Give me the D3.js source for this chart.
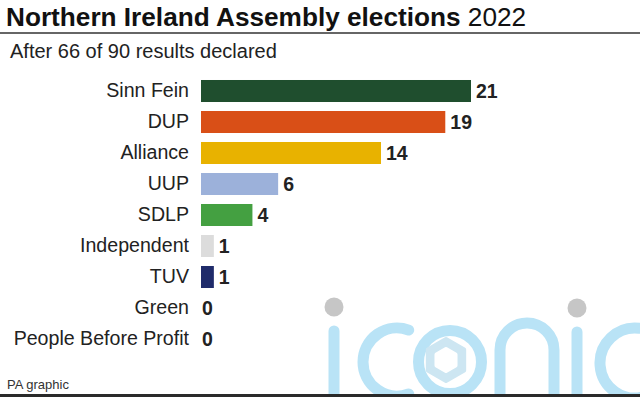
<!DOCTYPE html>
<html>
<head>
<meta charset="utf-8">
<script src="https://cdn.jsdelivr.net/npm/d3@7"></script>
<style>
  body { margin: 0; background: #fff; }
  svg { display: block; font-family: "Liberation Sans", Arial, sans-serif; }
</style>
</head>
<body>
<div id="plot"></div>
<script>
const parties = ["Sinn Fein", "DUP", "Alliance", "UUP", "SDLP", "Independent", "TUV", "Green", "People Before Profit"];
const seats = [21, 19, 14, 6, 4, 1, 1, 0, 0];
const partyColours = ["#1f4e2e", "#d94f17", "#e8b200", "#9cb1da", "#44a041", "#dcdcdc", "#1f2b6a", "#3a9a3a", "#c0392b"];

const w = 640;
const h = 397;

const rows = parties.map((p, i) => ({party: p, seats: seats[i]}));

const svg = d3.select("div#plot")
  .append("svg")
  .attr("width", w)
  .attr("height", h);

svg.append("rect")
  .attr("width", w)
  .attr("height", h)
  .attr("fill", "#fff");

// title
const title = svg.append("text")
  .attr("x", 6)
  .attr("y", 26)
  .attr("font-size", 26.2)
  .attr("fill", "#111");
title.append("tspan").attr("font-weight", "bold").text("Northern Ireland Assembly elections ");
title.append("tspan").text("2022");

svg.append("line")
  .attr("x1", 0).attr("x2", w)
  .attr("y1", 33).attr("y2", 33)
  .attr("stroke", "#333")
  .attr("stroke-width", 1.5);

svg.append("text")
  .attr("x", 10)
  .attr("y", 58)
  .attr("font-size", 20)
  .attr("fill", "#222")
  .text("After 66 of 90 results declared");

// scales
const xScale = d3.scaleLinear()
  .domain([0, 21])
  .range([201, 471]);

const yScale = d3.scaleBand()
  .domain(parties)
  .range([75.5, 354.5])
  .paddingInner(0.29)
  .paddingOuter(0.145);

const colour = d3.scaleOrdinal()
  .domain(parties)
  .range(partyColours);

// category labels (axis without line/ticks)
const yAxis = d3.axisLeft(yScale).tickSize(0).tickPadding(0);
const gy = svg.append("g")
  .attr("transform", `translate(${xScale(0) - 12}, 0)`)
  .call(yAxis);
gy.select(".domain").remove();
gy.selectAll("text")
  .attr("font-size", 19.6)
  .attr("font-family", "Liberation Sans, Arial, sans-serif")
  .attr("fill", "#222");

// bars
svg.append("g")
  .selectAll("rect")
  .data(rows.filter(d => d.seats > 0))
  .enter().append("rect")
  .attr("x", xScale(0))
  .attr("y", d => yScale(d.party))
  .attr("width", d => xScale(d.seats) - xScale(0))
  .attr("height", yScale.bandwidth())
  .attr("fill", d => colour(d.party));

// value labels
svg.append("g")
  .selectAll("text")
  .data(rows)
  .enter().append("text")
  .attr("x", d => xScale(d.seats) + (d.seats > 0 ? 5 : 1))
  .attr("y", d => yScale(d.party) + yScale.bandwidth() / 2)
  .attr("dy", "0.36em")
  .attr("font-size", 19.5)
  .attr("font-weight", "bold")
  .attr("fill", "#222")
  .text(d => d.seats);

// footer
svg.append("text")
  .attr("x", 7)
  .attr("y", 389)
  .attr("font-size", 13)
  .attr("fill", "#333")
  .text("PA graphic");

// agency watermark
const wm = svg.append("g")
  .attr("fill", "none")
  .attr("stroke", "#b9e3f6")
  .attr("stroke-width", 11)
  .attr("stroke-linecap", "round");

wm.append("line").attr("x1", 334).attr("x2", 334).attr("y1", 331).attr("y2", 402);
wm.append("line").attr("x1", 577).attr("x2", 577).attr("y1", 332).attr("y2", 402);

function arcPath(cx, cy, r, a0, a1) {
  const p = d3.path();
  p.arc(cx, cy, r, a0, a1, true);
  return p.toString();
}
wm.append("path").attr("d", arcPath(397, 362, 34, -1.22, 1.22));
wm.append("path").attr("d", arcPath(635, 363, 35, -1.45, 1.3));
wm.append("circle").attr("cx", 450).attr("cy", 362).attr("r", 31.5);
wm.append("path").attr("d", "M500,402 V350 A27,27 0 0 1 554,350 V402");

const hex = d3.range(6).map(i => {
  const a = Math.PI / 6 + i * Math.PI / 3;
  return [446 + 21 * Math.cos(a), 360 + 21 * Math.sin(a)];
});
svg.append("path")
  .attr("d", d3.line()(hex) + "Z")
  .attr("fill", "#cde6f2")
  .attr("stroke", "#cde6f2")
  .attr("stroke-width", 4)
  .attr("stroke-linejoin", "round");
const inner = d3.range(6).map(i => {
  const a = Math.PI / 6 + i * Math.PI / 3;
  return [446 + 11 * Math.cos(a), 360 + 11 * Math.sin(a)];
});
svg.append("path")
  .attr("d", d3.line()(inner) + "Z")
  .attr("fill", "#fff")
  .attr("stroke", "#fff")
  .attr("stroke-width", 4)
  .attr("stroke-linejoin", "round");

svg.append("circle").attr("cx", 334).attr("cy", 307).attr("r", 9.5).attr("fill", "#c6c6c6");
svg.append("circle").attr("cx", 577).attr("cy", 308).attr("r", 9.5).attr("fill", "#c6c6c6");

// bottom rule
svg.append("rect")
  .attr("x", 0).attr("y", 394)
  .attr("width", w).attr("height", 3)
  .attr("fill", "#2a2a2a");
</script>
</body>
</html>
